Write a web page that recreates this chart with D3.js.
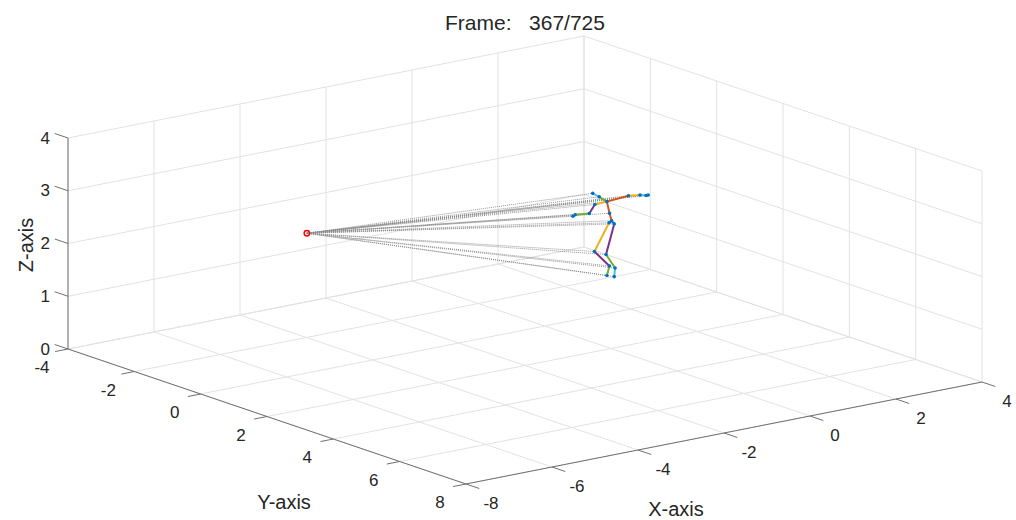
<!DOCTYPE html>
<html>
<head>
<meta charset="utf-8">
<script src="https://cdn.jsdelivr.net/npm/d3@7"></script>
<style>
    body { margin: 0; background: #fff; }
    text { font-family: "Liberation Sans", Arial, Helvetica, sans-serif; fill: #262626; }
</style>
</head>
<body>
<div class="chart"></div>
<script>
// axis ticks
const xTicks = [-8, -6, -4, -2, 0, 2, 4];
const yTicks = [-4, -2, 0, 2, 4, 6, 8];
const zTicks = [0, 1, 2, 3, 4];

// skeleton joints of the current frame
const jointNames = ["head", "neck", "spineShoulder", "elbowR", "wristR", "handR", "handTipR",
    "shoulderL", "elbowL", "wristL", "handL", "spineMid", "spineBase", "hipR", "hipL",
    "kneeR", "kneeL", "ankleR", "ankleL", "footR", "footL"];
const jointX = [2.66, 2.81, 2.99, 3.49, 3.76, 3.90, 3.95, 2.71, 2.58, 2.25, 2.20, 3.05, 3.10, 3.04, 3.16, 2.70, 2.97, 3.05, 3.18, 2.99, 3.16];
const jointY = [-2, -2, -2, -2, -2, -2, -2, -2, -2, -2, -2, -2, -2, -2, -2, -2, -2, -2, -2, -2, -2];
const jointZ = [1.66, 1.57, 1.45, 1.48, 1.45, 1.42, 1.42, 1.44, 1.29, 1.32, 1.30, 1.22, 1.07, 1.04, 1.00, 0.55, 0.45, 0.22, 0.16, 0.05, 0.00];

// bones: joint index pairs and colours
const boneFrom = [0, 1, 2, 3, 4, 5, 2, 7, 8, 9, 2, 11, 12, 12, 13, 14, 15, 16, 17, 18];
const boneTo   = [1, 2, 3, 4, 5, 6, 7, 8, 9, 10, 11, 12, 13, 14, 15, 16, 17, 18, 19, 20];
const boneColors = ["#4DBEEE", "#77AC30", "#D95319", "#EDB120", "#4DBEEE", "#0072BD",
    "#EDB120", "#7E2F8E", "#77AC30", "#4DBEEE", "#D95319", "#D95319", "#A2142F", "#0072BD",
    "#EDB120", "#7E2F8E", "#7E2F8E", "#77AC30", "#77AC30", "#4DBEEE"];

// camera position
const camera = [-5.53, 0, 2.65];

const frameNo = 367;
const frameCount = 725;

const width = 1016;
const height = 520;

const svg = d3.select("div.chart")
    .append("svg")
    .attr("width", width)
    .attr("height", height);

const sx = d3.scaleLinear().domain([-8, 4]).range([0, 1]);
const sy = d3.scaleLinear().domain([-4, 8]).range([0, 1]);
const sz = d3.scaleLinear().domain([0, 4]).range([0, 1]);

// screen vectors of the box edges (orthographic view)
const origin = [68, 349];
const ax = [516, -102];
const ay = [398, 135];
const az = [0, -211];

function proj(x, y, z) {
    const u = sx(x), v = sy(y), w = sz(z);
    return [origin[0] + u * ax[0] + v * ay[0] + w * az[0],
            origin[1] + u * ax[1] + v * ay[1] + w * az[1]];
}

function seg(g, a, b) {
    const p = proj(...a), q = proj(...b);
    return g.append("line")
        .attr("x1", p[0]).attr("y1", p[1])
        .attr("x2", q[0]).attr("y2", q[1]);
}

// grid on the back walls and the floor
const grid = svg.append("g")
    .attr("stroke", "#e2e2e2")
    .attr("stroke-width", 1);

xTicks.forEach(x => {
    seg(grid, [x, -4, 0], [x, -4, 4]);
    seg(grid, [x, -4, 0], [x, 8, 0]);
});
yTicks.forEach(y => {
    seg(grid, [4, y, 0], [4, y, 4]);
    seg(grid, [-8, y, 0], [4, y, 0]);
});
zTicks.forEach(z => {
    seg(grid, [-8, -4, z], [4, -4, z]);
    seg(grid, [4, -4, z], [4, 8, z]);
});

// axis lines and ticks
const axes = svg.append("g")
    .attr("stroke", "#707070")
    .attr("stroke-width", 1);

seg(axes, [-8, -4, 0], [-8, -4, 4]);
seg(axes, [-8, -4, 0], [-8, 8, 0]);
seg(axes, [-8, 8, 0], [4, 8, 0]);

zTicks.forEach(z => seg(axes, [-8, -4, z], [-8, -4.4, z]));
yTicks.forEach(y => seg(axes, [-8, y, 0], [-8.3, y, 0]));
xTicks.forEach(x => seg(axes, [x, 8, 0], [x, 8.4, 0]));

// tick labels
const labels = svg.append("g").style("font-size", "17px");

zTicks.forEach(z => {
    const p = proj(-8, -4, z);
    labels.append("text")
        .attr("x", p[0] - 18)
        .attr("y", p[1] + 5.5)
        .attr("text-anchor", "end")
        .text(z);
});
yTicks.forEach(y => {
    const p = proj(-8, y, 0);
    labels.append("text")
        .attr("x", p[0] - 26)
        .attr("y", p[1] + 24)
        .attr("text-anchor", "middle")
        .text(y);
});
xTicks.forEach(x => {
    const p = proj(x, 8, 0);
    labels.append("text")
        .attr("x", p[0] + 25)
        .attr("y", p[1] + 25)
        .attr("text-anchor", "middle")
        .text(x);
});

// axis titles
svg.append("text")
    .attr("x", 284).attr("y", 509)
    .attr("text-anchor", "middle")
    .style("font-size", "20px")
    .text("Y-axis");

svg.append("text")
    .attr("x", 676).attr("y", 516)
    .attr("text-anchor", "middle")
    .style("font-size", "20px")
    .text("X-axis");

svg.append("text")
    .attr("transform", "translate(33,245) rotate(-90)")
    .attr("text-anchor", "middle")
    .style("font-size", "20px")
    .text("Z-axis");

svg.append("text")
    .attr("x", 525).attr("y", 30)
    .attr("text-anchor", "middle")
    .style("font-size", "21px")
    .style("white-space", "pre")
    .text("Frame:   " + frameNo + "/" + frameCount);

// rays from the camera to every joint
const cam = proj(...camera);
const joints = jointNames.map((n, i) => proj(jointX[i], jointY[i], jointZ[i]));

svg.append("g")
    .attr("stroke", "#8a8a8a")
    .attr("stroke-width", 0.9)
    .attr("stroke-dasharray", "1,1")
    .selectAll("line")
    .data(joints)
    .enter()
    .append("line")
    .attr("x1", cam[0]).attr("y1", cam[1])
    .attr("x2", d => d[0]).attr("y2", d => d[1]);

// bones
svg.append("g")
    .attr("stroke-width", 2)
    .attr("stroke-linecap", "round")
    .selectAll("line")
    .data(boneFrom)
    .enter()
    .append("line")
    .attr("stroke", (d, i) => boneColors[i])
    .attr("x1", (d, i) => joints[boneFrom[i]][0])
    .attr("y1", (d, i) => joints[boneFrom[i]][1])
    .attr("x2", (d, i) => joints[boneTo[i]][0])
    .attr("y2", (d, i) => joints[boneTo[i]][1]);

// joint markers
svg.append("g")
    .selectAll("circle")
    .data(joints)
    .enter()
    .append("circle")
    .attr("cx", d => d[0])
    .attr("cy", d => d[1])
    .attr("r", 1.8)
    .attr("fill", "#0072BD");

// camera marker
svg.append("circle")
    .attr("cx", cam[0])
    .attr("cy", cam[1])
    .attr("r", 2.7)
    .attr("fill", "none")
    .attr("stroke", "#ff0000")
    .attr("stroke-width", 1.5);
</script>
</body>
</html>
